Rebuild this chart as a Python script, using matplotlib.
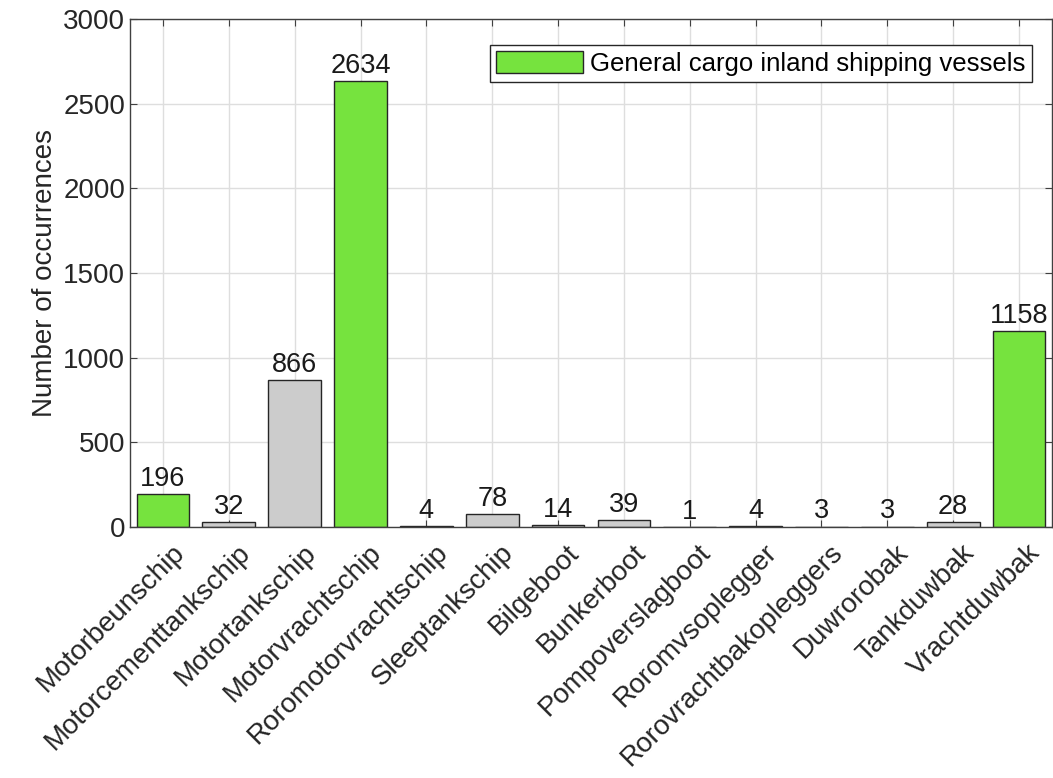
import matplotlib.pyplot as plt
import matplotlib.transforms as mtransforms
import numpy as np

plt.rcParams['font.family'] = ['Liberation Sans', 'DejaVu Sans']

categories = ['Motorbeunschip', 'Motorcementtankschip', 'Motortankschip', 'Motorvrachtschip',
              'Roromotorvrachtschip', 'Sleeptankschip', 'Bilgeboot', 'Bunkerboot',
              'Pompoverslagboot', 'Roromvsoplegger', 'Rorovrachtbakopleggers', 'Duwrorobak',
              'Tankduwbak', 'Vrachtduwbak']
counts = [196, 32, 866, 2634, 4, 78, 14, 39, 1, 4, 3, 3, 28, 1158]
general_cargo = ['Motorbeunschip', 'Motorvrachtschip', 'Vrachtduwbak']

GREEN = '#76e33e'
GRAY = '#cccccc'

fig = plt.figure(figsize=(10.53, 7.78), dpi=100)
ax = fig.add_axes([0.1235, 0.3226, 0.8755, 0.653])

x = np.arange(1, len(categories) + 1)
colors = [GREEN if c in general_cargo else GRAY for c in categories]
bars = ax.bar(x, counts, width=0.8, color=colors, edgecolor='#262626', linewidth=1.0, zorder=2)

for xi, v in zip(x, counts):
    ax.text(xi, v + 12, str(v), ha='center', va='bottom', fontsize=19.5, color='#1a1a1a', zorder=3)

ax.set_xlim(0.5, len(categories) + 0.5)
ax.set_ylim(0, 3000)
ax.set_yticks(np.arange(0, 3001, 500))
ax.set_xticks(x)
ax.set_xticklabels(categories, rotation=45, ha='right', rotation_mode='anchor', fontsize=20)
ax.tick_params(axis='y', labelsize=20)
ax.tick_params(axis='x', pad=9)
ax.tick_params(direction='in', top=True, right=True, length=5, color='#404040', labelcolor='#262626')
ax.set_ylabel('Number of occurrences', fontsize=20, color='#262626')

# nudge the rotated labels a little to the right
shift = mtransforms.ScaledTranslation(6 / 72, 0, fig.dpi_scale_trans)
for lbl in ax.get_xticklabels():
    lbl.set_transform(lbl.get_transform() + shift)

ax.grid(True, color='#dedede', linewidth=1.0, zorder=0)
ax.set_axisbelow(True)
for s in ax.spines.values():
    s.set_color('#404040')
    s.set_linewidth(1.0)

leg = ax.legend([bars[0]], ['General cargo inland shipping vessels'], loc='upper right',
                bbox_to_anchor=(0.978, 0.949), borderaxespad=0,
                fontsize=18.5, fancybox=False, framealpha=1, edgecolor='#262626',
                handlelength=3.4, handleheight=0.9, borderpad=0.25, handletextpad=0.25)
leg.get_frame().set_linewidth(1.0)

fig.savefig('out.png', dpi=100)
